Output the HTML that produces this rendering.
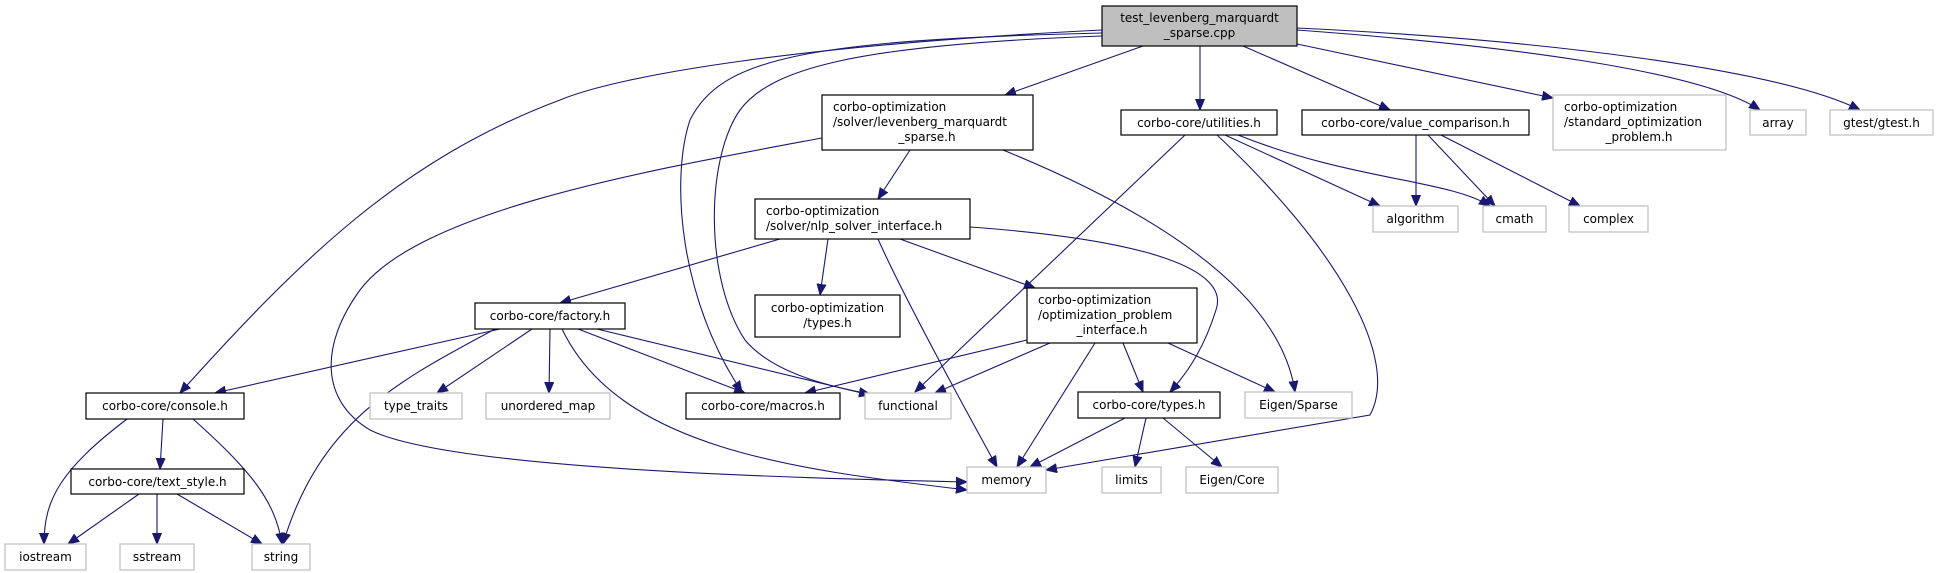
<!DOCTYPE html>
<html><head><meta charset="utf-8"><style>
html,body{margin:0;padding:0;background:#fff;}
svg{display:block;}
text{font-family:"DejaVu Sans","Liberation Sans",sans-serif;font-size:12px;fill:#000;}
.b{fill:#fff;stroke:#000;stroke-width:1.2;}
.g{fill:#fff;stroke:#bfbfbf;stroke-width:1.2;}
.e{fill:none;stroke:#191970;stroke-width:1.1;marker-end:url(#a);}
</style></head><body>
<svg width="1940" height="573" viewBox="0 0 1940 573" xmlns="http://www.w3.org/2000/svg">
<defs><marker id="a" markerUnits="userSpaceOnUse" markerWidth="12" markerHeight="10" refX="11" refY="5" orient="auto"><path d="M0,0.5 L11,5 L0,9.5 Z" fill="#191970" stroke="#191970"/></marker></defs>

<!-- edges -->
<path class="e" d="M1143,46 L1005,95"/>
<path class="e" d="M1200,46 L1200,110"/>
<path class="e" d="M1243,46 L1390,110"/>
<path class="e" d="M1297,44 L1553,98"/>
<path class="e" d="M1297,30 C1500,45 1700,70 1760,110"/>
<path class="e" d="M1297,28 C1550,40 1780,70 1860,110"/>
<path class="e" d="M1102,30 C800,45 620,75 560,100 C400,160 300,260 180,393"/>
<path class="e" d="M1102,33 C800,40 720,60 690,120 C670,180 680,300 742,392"/>
<path class="e" d="M1102,36 C850,45 770,70 740,110 C705,160 705,280 745,340 C770,370 820,385 870,394"/>
<path class="e" d="M822,138 C650,170 420,210 360,290 C320,345 320,400 370,430 C450,470 800,478 967,482"/>
<path class="e" d="M910,150 L878,199"/>
<path class="e" d="M1003,150 C1150,210 1280,290 1295,392"/>
<path class="e" d="M780,239 L560,303"/>
<path class="e" d="M828,239 L820,295"/>
<path class="e" d="M878,239 Q905,300 997,467"/>
<path class="e" d="M900,239 L1035,288"/>
<path class="e" d="M970,227 C1150,240 1230,270 1216,310 C1205,345 1190,370 1170,392"/>
<path class="e" d="M1185,135 L915,392"/>
<path class="e" d="M1217,135 C1340,250 1400,360 1370,415 L1046,470"/>
<path class="e" d="M1225,135 L1380,206"/>
<path class="e" d="M1238,135 C1350,180 1450,180 1490,206"/>
<path class="e" d="M1416,135 L1416,206"/>
<path class="e" d="M1428,135 L1495,206"/>
<path class="e" d="M1441,135 L1580,206"/>
<path class="e" d="M500,329 L215,393"/>
<path class="e" d="M495,329 C400,380 320,420 283,544"/>
<path class="e" d="M532,329 L437,393"/>
<path class="e" d="M550,329 L549,393"/>
<path class="e" d="M562,329 C620,450 800,470 967,490"/>
<path class="e" d="M578,329 L745,393"/>
<path class="e" d="M597,329 L870,395"/>
<path class="e" d="M1027,340 L805,393"/>
<path class="e" d="M1050,343 L935,393"/>
<path class="e" d="M1095,343 L1017,467"/>
<path class="e" d="M1123,343 L1143,392"/>
<path class="e" d="M1168,343 L1275,392"/>
<path class="e" d="M1125,418 L1030,467"/>
<path class="e" d="M1146,418 L1135,467"/>
<path class="e" d="M1163,418 L1222,467"/>
<path class="e" d="M127,419 C60,470 44,500 44,544"/>
<path class="e" d="M163,419 L160,469"/>
<path class="e" d="M193,419 C250,470 275,500 282,544"/>
<path class="e" d="M139,494 L68,544"/>
<path class="e" d="M157,494 L157,544"/>
<path class="e" d="M177,494 L262,544"/>

<!-- nodes -->
<rect x="1102" y="6" width="195" height="40" fill="#bfbfbf" stroke="#000" stroke-width="1.2"/>
<text x="1199.5" y="22" text-anchor="middle">test_levenberg_marquardt</text>
<text x="1199.5" y="37" text-anchor="middle">_sparse.cpp</text>

<rect class="b" x="822" y="95" width="211" height="55"/>
<text x="833" y="111">corbo-optimization</text>
<text x="833" y="126">/solver/levenberg_marquardt</text>
<text x="927" y="141" text-anchor="middle">_sparse.h</text>

<rect class="b" x="1121" y="110" width="156" height="25"/><text x="1199" y="127" text-anchor="middle">corbo-core/utilities.h</text>
<rect class="b" x="1302" y="110" width="227" height="25"/><text x="1415.5" y="127" text-anchor="middle">corbo-core/value_comparison.h</text>
<rect class="g" x="1553" y="95" width="173" height="55"/>
<text x="1564" y="111">corbo-optimization</text>
<text x="1564" y="126">/standard_optimization</text>
<text x="1639" y="141" text-anchor="middle">_problem.h</text>
<rect class="g" x="1750" y="110" width="56" height="25"/><text x="1778" y="127" text-anchor="middle">array</text>
<rect class="g" x="1830" y="110" width="103" height="25"/><text x="1881.5" y="127" text-anchor="middle">gtest/gtest.h</text>
<rect class="g" x="1373" y="206" width="85" height="26"/><text x="1415.5" y="223" text-anchor="middle">algorithm</text>
<rect class="g" x="1483" y="206" width="63" height="26"/><text x="1514.5" y="223" text-anchor="middle">cmath</text>
<rect class="g" x="1569" y="206" width="79" height="26"/><text x="1608.5" y="223" text-anchor="middle">complex</text>

<rect class="b" x="755" y="199" width="215" height="40"/>
<text x="766" y="215">corbo-optimization</text>
<text x="766" y="230">/solver/nlp_solver_interface.h</text>

<rect class="b" x="475" y="303" width="150" height="26"/><text x="550" y="320" text-anchor="middle">corbo-core/factory.h</text>
<rect class="b" x="755" y="295" width="145" height="42"/>
<text x="827.5" y="312" text-anchor="middle">corbo-optimization</text>
<text x="827.5" y="327" text-anchor="middle">/types.h</text>
<rect class="b" x="1027" y="288" width="170" height="55"/>
<text x="1038" y="304">corbo-optimization</text>
<text x="1038" y="319">/optimization_problem</text>
<text x="1112" y="334" text-anchor="middle">_interface.h</text>

<rect class="b" x="86" y="393" width="158" height="26"/><text x="165" y="410" text-anchor="middle">corbo-core/console.h</text>
<rect class="g" x="370" y="393" width="92" height="26"/><text x="416" y="410" text-anchor="middle">type_traits</text>
<rect class="g" x="486" y="393" width="124" height="26"/><text x="548" y="410" text-anchor="middle">unordered_map</text>
<rect class="b" x="686" y="393" width="154" height="26"/><text x="763" y="410" text-anchor="middle">corbo-core/macros.h</text>
<rect class="g" x="865" y="393" width="86" height="26"/><text x="908" y="410" text-anchor="middle">functional</text>
<rect class="b" x="1078" y="392" width="142" height="26"/><text x="1149" y="409" text-anchor="middle">corbo-core/types.h</text>
<rect class="g" x="1245" y="392" width="107" height="26"/><text x="1298.5" y="409" text-anchor="middle">Eigen/Sparse</text>

<rect class="b" x="71" y="469" width="173" height="25"/><text x="157.5" y="486" text-anchor="middle">corbo-core/text_style.h</text>
<rect class="g" x="967" y="467" width="79" height="26"/><text x="1006.5" y="484" text-anchor="middle">memory</text>
<rect class="g" x="1102" y="467" width="59" height="26"/><text x="1131.5" y="484" text-anchor="middle">limits</text>
<rect class="g" x="1186" y="467" width="92" height="26"/><text x="1232" y="484" text-anchor="middle">Eigen/Core</text>

<rect class="g" x="5" y="544" width="81" height="26"/><text x="45.5" y="561" text-anchor="middle">iostream</text>
<rect class="g" x="120" y="544" width="74" height="26"/><text x="157" y="561" text-anchor="middle">sstream</text>
<rect class="g" x="252" y="544" width="58" height="26"/><text x="281" y="561" text-anchor="middle">string</text>
</svg>
</body></html>
